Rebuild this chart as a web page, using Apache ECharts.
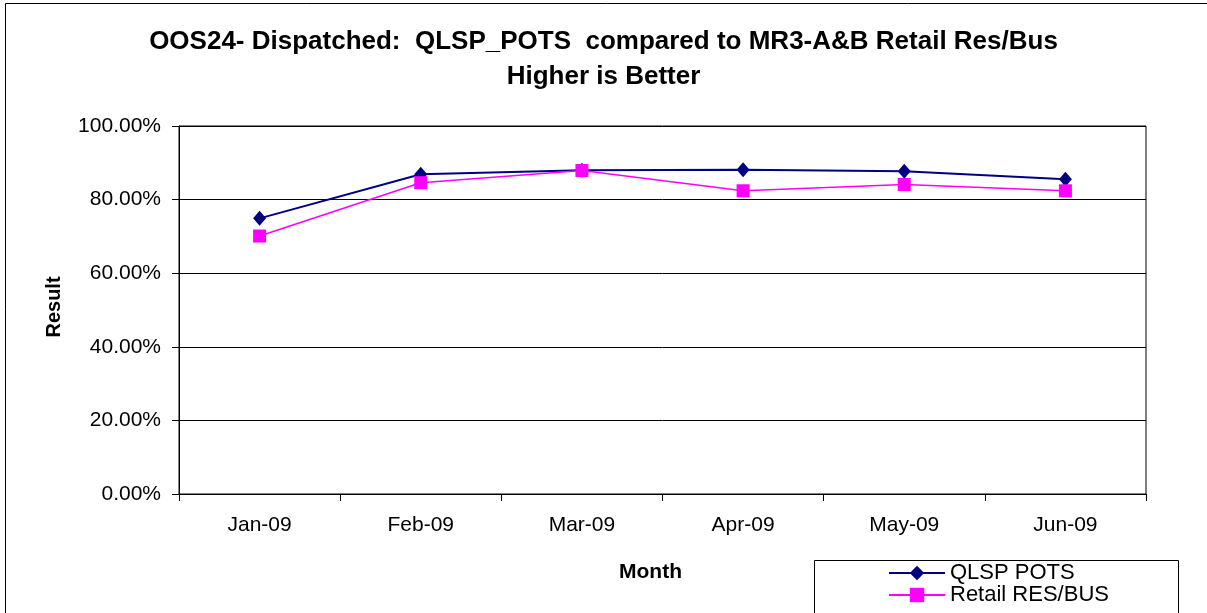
<!DOCTYPE html>
<html>
<head>
<meta charset="utf-8">
<script src="https://cdn.jsdelivr.net/npm/echarts@6/dist/echarts.min.js"></script>
<style>
    html, body { margin: 0; padding: 0; background: #fff; }
    #chart { width: 1207px; height: 613px; }
</style>
</head>
<body>
<div id="chart"></div>
<script>
const months = ['Jan-09', 'Feb-09', 'Mar-09', 'Apr-09', 'May-09', 'Jun-09'];
const qlspPots = [74.9, 86.9, 88.0, 88.1, 87.7, 85.5];
const retailResBus = [70.1, 84.6, 87.9, 82.4, 84.1, 82.4];
const yTicks = [0, 20, 40, 60, 80, 100];

const font = 'Arial, "Liberation Sans", sans-serif';
const chart = echarts.init(document.getElementById('chart'));

const option = {
    backgroundColor: '#fff',
    animation: false,
    textStyle: { fontFamily: font },
    title: {
        text: 'OOS24- Dispatched:  QLSP_POTS  compared to MR3-A&B Retail Res/Bus\nHigher is Better',
        left: 'center',
        top: 20,
        textStyle: {
            fontFamily: font,
            fontSize: 26,
            fontWeight: 'bold',
            color: '#000',
            lineHeight: 34.5
        }
    },
    grid: {
        left: 179,
        right: 61,
        top: 126,
        bottom: 119,
        show: true,
        borderColor: '#000',
        borderWidth: 1
    },
    xAxis: {
        type: 'category',
        data: months,
        boundaryGap: true,
        name: 'Month',
        nameLocation: 'middle',
        nameGap: 68,
        nameTextStyle: { fontFamily: font, fontSize: 21, fontWeight: 'bold', color: '#000', padding: [0, 24, 0, 0] },
        axisLine: { lineStyle: { color: '#000', width: 1 } },
        axisTick: { show: true, alignWithLabel: false, length: 7, lineStyle: { color: '#000' } },
        axisLabel: { fontFamily: font, fontSize: 21, color: '#000', margin: 21 }
    },
    yAxis: {
        type: 'value',
        min: yTicks[0],
        max: yTicks[yTicks.length - 1],
        interval: 20,
        name: 'Result',
        nameLocation: 'middle',
        nameGap: 115,
        nameRotate: 90,
        nameTextStyle: { fontFamily: font, fontSize: 20, fontWeight: 'bold', color: '#000', padding: [0, 0, 0, 6] },
        axisLine: { show: true, lineStyle: { color: '#000', width: 1 } },
        axisTick: { show: true, length: 7, lineStyle: { color: '#000' } },
        axisLabel: {
            fontFamily: font, fontSize: 21, color: '#000', margin: 18,
            formatter: function (v) { return v.toFixed(2) + '%'; }
        },
        splitLine: { show: true, lineStyle: { color: '#000', width: 1 } }
    },
    legend: {
        orient: 'vertical',
        left: 883,
        top: 557,
        itemWidth: 56,
        itemHeight: 18,
        itemGap: 0,
        textStyle: { fontFamily: font, fontSize: 22, color: '#000', lineHeight: 22, padding: [0, 0, 0, 0] },
        data: ['QLSP POTS', 'Retail RES/BUS']
    },
    graphic: [
        {
            type: 'rect',
            z: -1,
            shape: { x: 5.5, y: 3.5, width: 1300, height: 700 },
            style: { fill: 'none', stroke: '#000', lineWidth: 1 }
        },
        {
            type: 'rect',
            z: 0,
            shape: { x: 814.5, y: 560.5, width: 364, height: 80 },
            style: { fill: '#fff', stroke: '#000', lineWidth: 1 }
        }
    ],
    series: [
        {
            name: 'QLSP POTS',
            type: 'line',
            data: qlspPots,
            symbol: 'diamond',
            symbolSize: [13, 15],
            z: 3,
            itemStyle: { color: '#000080' },
            lineStyle: { color: '#000080', width: 2 }
        },
        {
            name: 'Retail RES/BUS',
            type: 'line',
            data: retailResBus,
            symbol: 'rect',
            symbolSize: [13, 13],
            z: 4,
            itemStyle: { color: '#FF00FF' },
            lineStyle: { color: '#FF00FF', width: 1.5 }
        }
    ]
};

chart.setOption(option);
</script>
</body>
</html>
